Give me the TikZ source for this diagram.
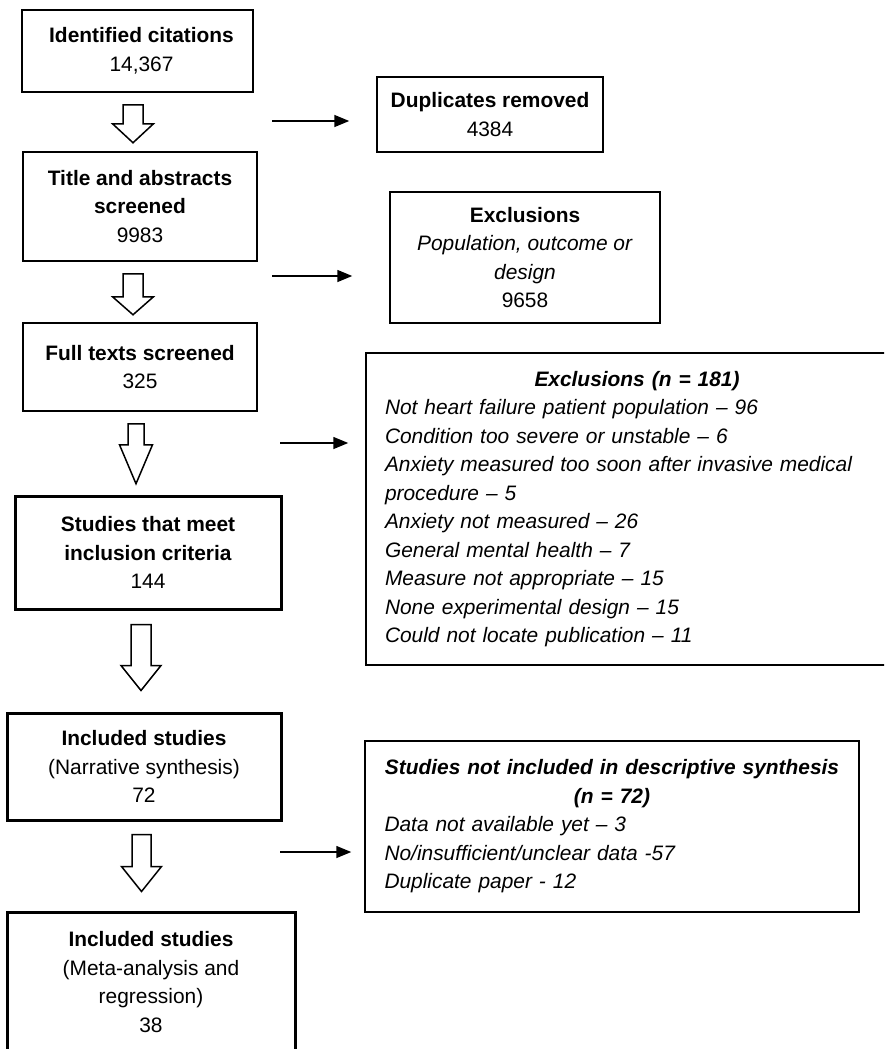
\documentclass[tikz,border=0pt]{standalone}
\usepackage{fontspec}
\setmainfont{Liberation Sans}
\usepackage{tikz}
\usetikzlibrary{arrows.meta}
\usetikzlibrary{calc}
\newcommand{\boxfont}{\fontsize{20.9}{28.5}\selectfont}
% hollow down arrow: start, shaft half, head half, shaft length, head length
\newcommand{\fatarrow}[5]{%
  \draw[fat] (#1) ++(-#2,0) -- ++(0,#4) -- ++({#2-#3},0) -- ++(#3,#5)
    -- ++(#3,-#5) -- ++({#2-#3},0) -- ++(0,-#4) -- cycle;}

\begin{document}
\begin{tikzpicture}[
  x=1pt, y=-1pt,
  box/.style 2 args={
    draw,
    line width=1.5pt,
    minimum width=#1,
    minimum height=#2,
    inner sep=0pt,
    align=center,
    font=\boxfont},
  thickbox/.style 2 args={
    box={#1}{#2},
    line width=3pt},
  listbox/.style 2 args={
    box={#1}{#2},
    align=left},
  side/.style={
    -{Triangle[length=15pt,width=12pt]},
    line width=1.5pt},
  fat/.style={
    line width=1.5pt,
    line join=miter},
]

  \clip (0,0) rectangle (884,1049);

  % main column
  \node[box={231pt}{82pt}] (cit) at (137.5,51)
    {\hspace*{8pt}\textbf{Identified citations}\\\hspace*{8pt}14,367};
  \node[box={234pt}{109pt}] (tabs) at (140,206.5)
    {\textbf{Title and abstracts}\\\textbf{screened}\\9983};
  \node[box={234pt}{88pt}] (full) at (140,367)
    {\textbf{Full texts screened}\\325};
  \node[thickbox={266pt}{113pt}] (incl) at (148,552.5)
    {\textbf{Studies that meet}\\\textbf{inclusion criteria}\\144};
  \node[thickbox={274pt}{107pt}] (narr) at (144,766.5)
    {\textbf{Included studies}\\(Narrative synthesis)\\72};
  \node[thickbox={288pt}{140pt}] (meta) at (151,982)
    {\textbf{Included studies}\\(Meta-analysis and\\regression)\\38};

  % exclusions
  \node[box={226pt}{75pt}] (dup) at (490,114.5)
    {\textbf{Duplicates removed}\\4384};
  \node[box={270pt}{131pt}] (excl_1) at (525,257.5)
    {\textbf{Exclusions}\\\textit{Population, outcome or}\\\textit{design}\\9658};
  \node[listbox={542pt}{312pt}, text width=504pt] (excl_2) at (637,509)
    {\makebox[\linewidth]{\bfseries\itshape Exclusions (n = 181)}\\
     \itshape Not heart failure patient population -- 96\\
     Condition too severe or unstable -- 6\\
     Anxiety measured too soon after invasive medical\\
     procedure -- 5\\
     Anxiety not measured -- 26\\
     General mental health -- 7\\
     Measure not appropriate -- 15\\
     None experimental design -- 15\\
     Could not locate publication -- 11};
  \node[listbox={494pt}{171pt}, text width=455pt] (excl_3) at (612,826.5)
    {\makebox[\linewidth]{\bfseries\itshape Studies not included in descriptive synthesis}\\
     \makebox[\linewidth]{\bfseries\itshape (n = 72)}\\
     \itshape Data not available yet -- 3\\
     No/insufficient/unclear data -57\\
     Duplicate paper - 12};

  % hollow arrows down the column
  \coordinate (a_1) at ($(cit.south)+(-4.5,12)$);
  \coordinate (a_2) at ($(tabs.south)+(-7,12)$);
  \coordinate (a_3) at ($(full.south)+(-4,12)$);
  \coordinate (a_4) at ($(incl.south)+(-7,14)$);
  \coordinate (a_5) at ($(narr.south)+(-2.5,13)$);

  \fatarrow{a_1}{10}{20.5}{19}{19}
  \fatarrow{a_2}{10}{20.5}{23}{18}
  \fatarrow{a_3}{8}{16.5}{21}{39}
  \fatarrow{a_4}{10}{20}{41}{25}
  \fatarrow{a_5}{9.5}{20}{32}{25}

  % side arrows
  \coordinate (s_1) at (272,121);
  \coordinate (s_2) at (272,276);
  \coordinate (s_3) at (280,443);
  \coordinate (s_4) at (280,852);

  \draw[side, shorten >=27pt] (s_1) -- (s_1 -| dup.west);
  \draw[side, shorten >=37pt] (s_2) -- (s_2 -| excl_1.west);
  \draw[side, shorten >=17pt] (s_3) -- (s_3 -| excl_2.west);
  \draw[side, shorten >=13pt] (s_4) -- (s_4 -| excl_3.west);

\end{tikzpicture}
\end{document}
